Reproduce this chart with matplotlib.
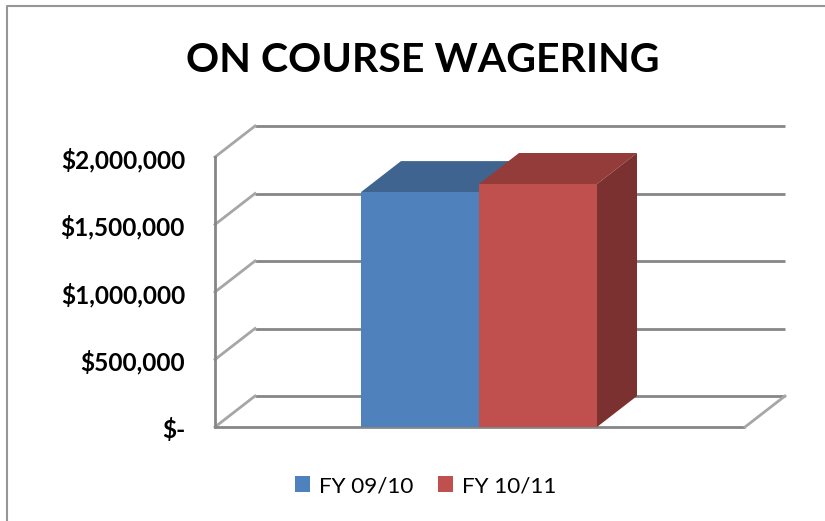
import matplotlib
matplotlib.use("Agg")
import matplotlib.pyplot as plt
from matplotlib.lines import Line2D
from matplotlib.patches import Polygon

# Data
series = ["FY 09/10", "FY 10/11"]
values = [1740000, 1800000]
front_colors = ["#4f81bd", "#c0504d"]
top_colors = ["#3f648f", "#933c3a"]
side_colors = ["#3a5f8a", "#7b3130"]
yticks = [0, 500000, 1000000, 1500000, 2000000]
ytick_labels = ["$-", "$500,000", "$1,000,000", "$1,500,000", "$2,000,000"]

W, H = 825, 521
plt.rcParams['font.family'] = ['Lato', 'DejaVu Sans']
GREY = "#868686"

fig = plt.figure(figsize=(W/100, H/100), dpi=100)
# outer chart frame, only left and top show in the crop
fig.add_artist(Line2D([7/W, 7/W, 1], [0, 1-6/H, 1-6/H], transform=fig.transFigure, color="#969696", lw=1.5))

# axes sits on the front plane of the 3d box
ax = fig.add_axes([215/W, 1-427/H, 530/W, 270/H])
ax.set_xlim(-0.5, 0.5)
ax.set_ylim(0, 2000000)
ax.axis("off")

# depth of the fake 3d box in data units
dx = 40/530
dy = 31/270*2000000

# back wall gridlines, left wall diagonals
for t in yticks:
    ax.plot([-0.5+dx, 0.5+dx], [t+dy, t+dy], color=GREY, lw=2, clip_on=False, zorder=1, solid_capstyle="butt")
    ax.plot([-0.5, -0.5+dx], [t, t+dy], color="#a6a6a6", lw=2, clip_on=False, zorder=1)
# floor
ax.plot([-0.5, 0.5], [0, 0], color=GREY, lw=2, clip_on=False, zorder=1, solid_capstyle="butt")
ax.plot([0.5, 0.5+dx], [0, dy], color="#a6a6a6", lw=2, clip_on=False, zorder=1)
ax.plot([-0.5, -0.5], [0, 2000000], color=GREY, lw=2, clip_on=False, zorder=1)

bar_w = 118/530
shift = -1/530
xs = [shift-bar_w, shift]
for i in range(len(series)):
    x0 = xs[i]
    v = values[i]
    ax.bar(x0, v, width=bar_w, align="edge", color=front_colors[i], zorder=3+i*3, clip_on=False)
    ax.add_patch(Polygon([(x0, v), (x0+dx, v+dy), (x0+bar_w+dx, v+dy), (x0+bar_w, v)],
                         closed=True, color=top_colors[i], lw=0, zorder=2+i*3, clip_on=False))
    ax.add_patch(Polygon([(x0+bar_w, 0), (x0+bar_w+dx, dy), (x0+bar_w+dx, v+dy), (x0+bar_w, v)],
                         closed=True, color=side_colors[i], lw=0, zorder=2+i*3, clip_on=False))

# tick labels
for t, lab in zip(yticks, ytick_labels):
    ax.annotate(lab, (-0.5, t), xytext=(-21.6, -2), textcoords="offset points", ha="right", va="center",
                fontsize=17.6, fontweight="bold", color="black")

fig.text(422.5/W, 1-61/H, "ON COURSE WAGERING", ha="center", va="center", fontsize=29.6, fontweight="bold", color="black")

# legend
ax.bar(0, 0, color=front_colors[0], label=series[0])
ax.bar(0, 0, color=front_colors[1], label=series[1])
fig.legend(*ax.get_legend_handles_labels(), loc="center", bbox_to_anchor=(425.5/W, 1-486/H), ncol=2, frameon=False,
           fontsize=16.2, handlelength=0.667, handleheight=0.755, handletextpad=0.4, columnspacing=1.07)

fig.savefig("out.png", dpi=100)
